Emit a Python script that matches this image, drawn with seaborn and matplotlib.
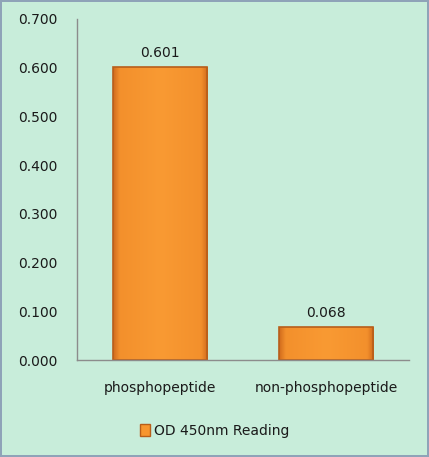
import matplotlib
matplotlib.use("Agg")
import matplotlib.pyplot as plt
import numpy as np
import seaborn as sns
import pandas as pd
from matplotlib.patches import Patch
from matplotlib.colors import LinearSegmentedColormap

# ── Data ──
categories = ["phosphopeptide", "non-phosphopeptide"]
od_values = [0.601, 0.068]
series_name = "OD 450nm Reading"
y_ticks = [0.0, 0.1, 0.2, 0.3, 0.4, 0.5, 0.6, 0.7]

BG = "#C8EDDA"
BAR = "#F7962F"
EDGE = "#B85E1A"
TXT = "#1a1a1a"

df = pd.DataFrame({"category": categories, "value": od_values})

sns.set_style("white")
plt.rcParams["font.family"] = ["DejaVu Sans"]

fig = plt.figure(figsize=(4.29, 4.57), dpi=100, facecolor=BG,
                 edgecolor="#8FA3B8", linewidth=1.5)
ax = fig.add_axes([77 / 429, 1 - 360 / 457, 332 / 429, 341 / 457])
ax.set_facecolor(BG)

sns.barplot(data=df, x="category", y="value", color=BAR, width=0.57,
            saturation=1, edgecolor=EDGE, linewidth=1.2, ax=ax)

# bevelled look on bars: darker thin sides, flat orange middle
shade = LinearSegmentedColormap.from_list(
    "bar_shade",
    [(0.0, "#D06A1C"), (0.07, "#F3902C"), (0.5, "#F99A33"),
     (0.93, "#F3902C"), (1.0, "#D06A1C")])
grad = np.linspace(0, 1, 256).reshape(1, -1)
for bar in ax.patches:
    x0, y0 = bar.get_x(), bar.get_y()
    w, h = bar.get_width(), bar.get_height()
    img = ax.imshow(grad, cmap=shade, aspect="auto", zorder=bar.get_zorder(),
                    extent=(x0, x0 + w, y0, y0 + h), interpolation="bicubic")
    img.set_clip_path(bar)
    bar.set_facecolor("none")
    bar.set_zorder(bar.get_zorder() + 0.1)

for i, v in enumerate(od_values):
    ax.text(i, v + 0.015, f"{v:.3f}", ha="center", va="bottom",
            fontsize=10, color=TXT)

ax.set_ylim(0, 0.7)
ax.set_xlim(-0.5, 1.5)
ax.set_yticks(y_ticks)
ax.set_yticklabels([f"{t:.3f}" for t in y_ticks], fontsize=10, color=TXT)
ax.tick_params(axis="y", length=0, pad=14)
ax.tick_params(axis="x", length=0, pad=15, labelsize=10, labelcolor=TXT)
ax.set_xlabel("")
ax.set_ylabel("")

for side in ["top", "right"]:
    ax.spines[side].set_visible(False)
for side in ["left", "bottom"]:
    ax.spines[side].set_color("#8C8C8C")
    ax.spines[side].set_linewidth(1)

handle = Patch(facecolor=BAR, edgecolor=EDGE, label=series_name)
fig.legend(handles=[handle], loc="center", bbox_to_anchor=(0.5, 1 - 431 / 457),
           frameon=False, fontsize=10, handlelength=0.7, handleheight=0.9,
           handletextpad=0.3, labelcolor=TXT)

fig.savefig("out.png", dpi=100, facecolor=BG, edgecolor="#8FA3B8")
